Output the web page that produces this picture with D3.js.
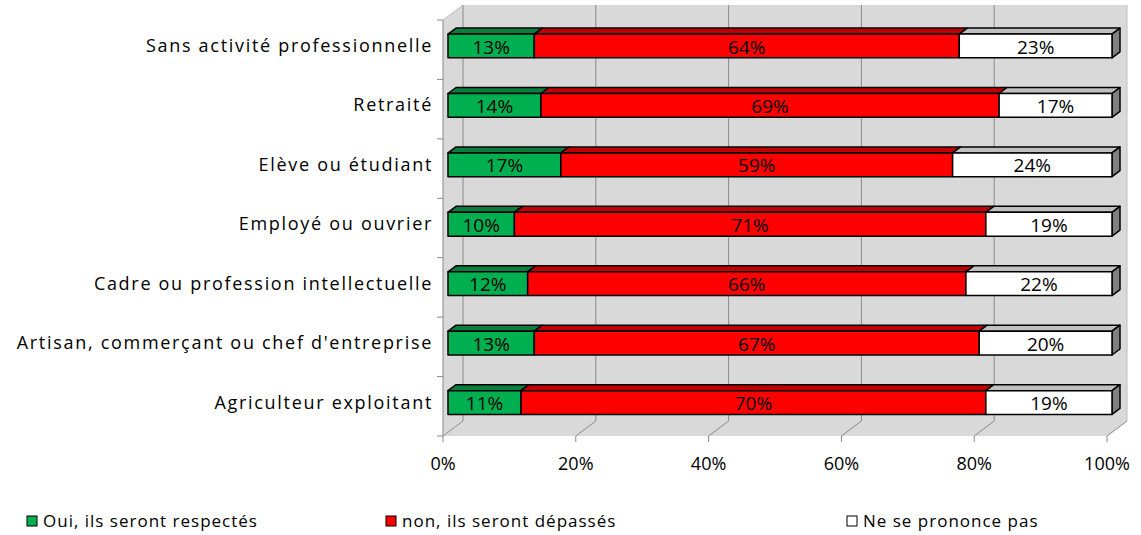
<!DOCTYPE html>
<html>
<head>
<meta charset="utf-8">
<script src="https://cdn.jsdelivr.net/npm/d3@7/dist/d3.min.js"></script>
<style>
body { margin: 0; background: #fff; }
text { font-family: "Open Sans", sans-serif; fill: #000; }
</style>
</head>
<body>
<div id="chart"></div>
<script>
// categories, listed top first
var categories = ["Sans activité professionnelle", "Retraité", "Elève ou étudiant",
  "Employé ou ouvrier", "Cadre ou profession intellectuelle",
  "Artisan, commerçant ou chef d'entreprise", "Agriculteur exploitant"]
var oui = [13, 14, 17, 10, 12, 13, 11]
var non = [64, 69, 59, 71, 66, 67, 70]
var nsp = [23, 17, 24, 19, 22, 20, 19]
var seriesNames = ["Oui, ils seront respectés", "non, ils seront dépassés", "Ne se prononce pas"]
var ticks = [0, 20, 40, 60, 80, 100]

var W = 1141, H = 535
var fronts = ["#00b050", "#ff0000", "#ffffff"]
var tops = ["#0b7d3c", "#c00000", "#c0c0c0"]

// 3D depth of the walls
var ddx = 20, ddy = 15
var pLeft = 443, pRight = 1107, pTop = 20, pBottom = 436

var svg = d3.select("#chart").append("svg")
  .attr("width", W).attr("height", H)

var x = d3.scaleLinear().domain([0, 100]).range([pLeft, pRight])
var y = d3.scaleBand().domain(categories).range([pTop, pBottom]).paddingInner(0.6).paddingOuter(0.3)

function pt(a) { return a.map(function(p){return p.join(",")}).join(" ") }

// walls
var wall = "#d9d9d9"
svg.append("polygon").attr("points", pt([[pLeft, pTop], [pLeft+ddx, pTop-ddy], [pLeft+ddx, pBottom-ddy], [pLeft, pBottom]])).attr("fill", wall)
svg.append("polygon").attr("points", pt([[pLeft, pBottom], [pLeft+ddx, pBottom-ddy], [pRight+ddx, pBottom-ddy], [pRight, pBottom]])).attr("fill", wall)
svg.append("rect").attr("x", pLeft+ddx).attr("y", pTop-ddy).attr("width", pRight-pLeft).attr("height", pBottom-pTop).attr("fill", wall)
svg.append("line").attr("x1", pLeft).attr("y1", pTop).attr("x2", pLeft+ddx).attr("y2", pTop-ddy).attr("stroke", "#bfbfbf")
svg.append("line").attr("x1", pRight+ddx).attr("y1", pTop-ddy).attr("x2", pRight+ddx).attr("y2", pBottom-ddy).attr("stroke", "#bfbfbf")

// gridlines on back wall and floor
var grid = svg.append("g").attr("stroke", "#8a8a8a").attr("fill", "none")
ticks.forEach(function(t){
  if (t < 100) grid.append("line").attr("x1", x(t)+ddx).attr("x2", x(t)+ddx).attr("y1", pTop-ddy).attr("y2", pBottom-ddy)
  grid.append("polyline").attr("points", pt([[x(t)+ddx, pBottom-ddy], [x(t), pBottom], [x(t), pBottom+6]]))
})
// left axis
grid.append("line").attr("x1", pLeft).attr("x2", pLeft).attr("y1", pTop).attr("y2", pBottom)
d3.range(categories.length + 1).forEach(function(i){
  var yy = pTop + i * (pBottom - pTop) / categories.length
  grid.append("line").attr("x1", pLeft - 6).attr("x2", pLeft).attr("y1", yy).attr("y2", yy)
})

// x tick labels
svg.selectAll(".tick").data(ticks).enter().append("text")
  .attr("x", function(d){return x(d)}).attr("y", pBottom + 34)
  .attr("text-anchor", "middle").style("font-size", "18px")
  .text(function(d){return d + "%"})

// category labels
svg.selectAll(".cat").data(categories).enter().append("text")
  .attr("x", 433).attr("y", function(d){return y(d) + y.bandwidth()/2 - 4})
  .attr("dy", "0.35em").attr("text-anchor", "end")
  .style("font-size", "18px").style("letter-spacing", "1.7px")
  .text(function(d){return d})

// bars: front plane pushed 1/4 into the depth, bar 0.4 deep
var bx = ddx * 0.25, by = ddy * 0.25
var tdx = ddx * 0.4, tdy = ddy * 0.4
var bars = svg.append("g").attr("stroke", "#000").attr("stroke-width", 1.5).attr("stroke-linejoin", "round")
categories.forEach(function(c, i){
  var vals = [oui[i], non[i], nsp[i]]
  var y0 = y(c) - by, h = y.bandwidth()
  var acc = 0
  var segs = vals.map(function(v, k){ var s = {k: k, a: acc, b: acc + v, v: v}; acc += v; return s })
  var scale = 100 / acc
  segs.forEach(function(s){ s.x0 = x(s.a*scale) + bx; s.x1 = x(s.b*scale) + bx })
  segs.forEach(function(s){
    bars.append("polygon").attr("fill", tops[s.k])
      .attr("points", pt([[s.x0, y0], [s.x1, y0], [s.x1+tdx, y0-tdy], [s.x0+tdx, y0-tdy]]))
  })
  var last = segs[segs.length-1]
  bars.append("polygon").attr("fill", "#808080")
    .attr("points", pt([[last.x1, y0], [last.x1+tdx, y0-tdy], [last.x1+tdx, y0+h-tdy], [last.x1, y0+h]]))
  segs.forEach(function(s){
    bars.append("rect").attr("x", s.x0).attr("y", y0).attr("width", s.x1 - s.x0).attr("height", h).attr("fill", fronts[s.k])
  })
  segs.forEach(function(s){
    svg.append("text").attr("x", (s.x0 + s.x1)/2).attr("y", y0 + h/2 + 1).attr("dy", "0.35em")
      .attr("text-anchor", "middle").style("font-size", "19px").text(s.v + "%")
  })
})

// legend
var legX = [27, 386, 847]
seriesNames.forEach(function(n, k){
  svg.append("rect").attr("x", legX[k]).attr("y", 516).attr("width", 10).attr("height", 10)
    .attr("fill", fronts[k]).attr("stroke", "#000").attr("stroke-width", 1)
  svg.append("text").attr("x", legX[k] + 16).attr("y", 521).attr("dy", "0.35em")
    .style("font-size", "17px").style("letter-spacing", "1px").text(n)
})
</script>
</body>
</html>
